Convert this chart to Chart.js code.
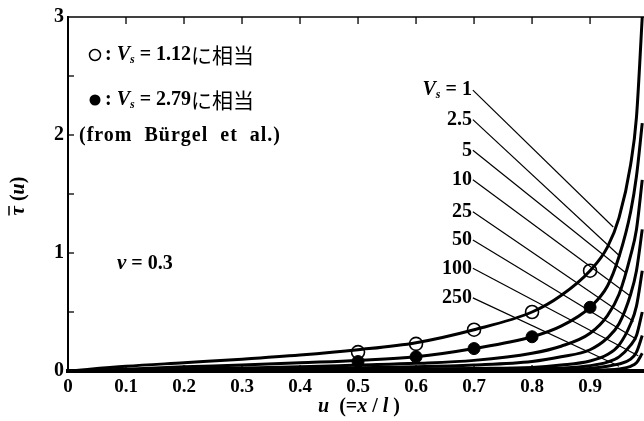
<!DOCTYPE html>
<html>
<head>
<meta charset="utf-8">
<script src="https://cdn.jsdelivr.net/npm/chart.js@4.4.1/dist/chart.umd.min.js"></script>
<style>
  html, body { margin: 0; padding: 0; background: #fff; }
  #wrap { width: 644px; height: 421px; position: relative; }
</style>
</head>
<body>
<div id="wrap"><canvas id="tauChart"></canvas></div>
<script>
// u positions shared by all curves
const uGrid = [0, 0.1, 0.2, 0.3, 0.4, 0.5, 0.6, 0.7, 0.8, 0.85, 0.9, 0.93, 0.95, 0.97, 0.98, 0.99];

// tau(u), one array per Vs
const vsLabels = ['1', '2.5', '5', '10', '25', '50', '100', '250'];
const tauVs1   = [0, 0.04, 0.07, 0.10, 0.135, 0.18, 0.24, 0.35, 0.50, 0.64, 0.85, 1.05, 1.30, 1.75, 2.15, 3.0];
const tauVs2_5 = [0, 0.015, 0.035, 0.05, 0.07, 0.09, 0.12, 0.19, 0.29, 0.38, 0.54, 0.72, 0.97, 1.35, 1.65, 2.1];
const tauVs5   = [0, 0.01, 0.018, 0.026, 0.035, 0.05, 0.065, 0.09, 0.15, 0.21, 0.32, 0.47, 0.65, 0.98, 1.2, 1.62];
const tauVs10  = [0, 0.006, 0.012, 0.018, 0.022, 0.028, 0.035, 0.05, 0.08, 0.12, 0.18, 0.28, 0.40, 0.65, 0.85, 1.2];
const tauVs25  = [0, 0.003, 0.006, 0.009, 0.012, 0.015, 0.018, 0.022, 0.03, 0.05, 0.085, 0.14, 0.22, 0.40, 0.55, 0.85];
const tauVs50  = [0, 0.002, 0.004, 0.006, 0.008, 0.01, 0.012, 0.014, 0.018, 0.025, 0.045, 0.075, 0.12, 0.22, 0.30, 0.5];
const tauVs100 = [0, 0.001, 0.002, 0.003, 0.004, 0.005, 0.006, 0.008, 0.01, 0.013, 0.022, 0.04, 0.06, 0.10, 0.16, 0.3];
const tauVs250 = [0, 0, 0, 0, 0, 0, 0.001, 0.002, 0.003, 0.004, 0.006, 0.01, 0.018, 0.04, 0.07, 0.15];
const curves = [tauVs1, tauVs2_5, tauVs5, tauVs10, tauVs25, tauVs50, tauVs100, tauVs250];

// experimental points (Bürgel et al.)
const expU      = [0.5, 0.6, 0.7, 0.8, 0.9];
const expOpen   = [0.16, 0.23, 0.35, 0.50, 0.85];  // Vs = 1.12
const expFilled = [0.08, 0.12, 0.19, 0.29, 0.54];  // Vs = 2.79

// leader lines from each Vs label to its curve
const leadFromU   = [0.698, 0.698, 0.698, 0.698, 0.698, 0.698, 0.698, 0.698];
const leadFromTau = [2.38, 2.13, 1.87, 1.62, 1.35, 1.11, 0.87, 0.62];
const leadToU     = [0.94, 0.952, 0.962, 0.968, 0.975, 0.98, 0.983, 0.95];
const leadToTau   = [1.22, 0.97, 0.83, 0.64, 0.42, 0.27, 0.13, 0.04];

// axes
const xTicks = [0, 0.1, 0.2, 0.3, 0.4, 0.5, 0.6, 0.7, 0.8, 0.9];
const yTicks = [0, 0.5, 1, 1.5, 2, 2.5, 3];

const SERIF = '"Liberation Serif", "DejaVu Serif", serif';
const CJK = '"Noto Sans CJK JP", sans-serif';

function drawRuns(ctx, x, y, runs, align) {
    let total = 0;
    runs.forEach(r => { ctx.font = r.f; total += ctx.measureText(r.t).width; });
    let cx = align === 'right' ? x - total : (align === 'center' ? x - total / 2 : x);
    const spans = [];
    runs.forEach(r => {
        ctx.font = r.f;
        const w = ctx.measureText(r.t).width;
        ctx.fillText(r.t, cx, y + (r.dy || 0));
        spans.push([cx, w]);
        cx += w;
    });
    return spans;
}

function vsRuns(value, size) {
    return [
        { t: 'V', f: `italic bold ${size}px ${SERIF}` },
        { t: 's', f: `italic bold ${Math.round(size * 0.6)}px ${SERIF}`, dy: 5 },
        { t: ' = ' + value, f: `bold ${size}px ${SERIF}` }
    ];
}

const annotations = {
    id: 'annotations',
    afterDraw(chart) {
        const { ctx, chartArea, scales } = chart;
        const xs = scales.x, ys = scales.y;
        ctx.save();
        ctx.fillStyle = '#000';
        ctx.strokeStyle = '#000';
        ctx.textBaseline = 'middle';

        // top frame line
        ctx.lineWidth = 1.5;
        ctx.beginPath();
        ctx.moveTo(chartArea.left, chartArea.top);
        ctx.lineTo(chartArea.right, chartArea.top);
        ctx.stroke();

        // inner tick marks
        ctx.lineWidth = 1.3;
        xTicks.slice(1).forEach(v => {
            const px = xs.getPixelForValue(v);
            ctx.beginPath();
            ctx.moveTo(px, chartArea.top); ctx.lineTo(px, chartArea.top + 7);
            ctx.moveTo(px, chartArea.bottom); ctx.lineTo(px, chartArea.bottom - 6);
            ctx.stroke();
        });
        yTicks.slice(1, -1).forEach(v => {
            const py = ys.getPixelForValue(v);
            ctx.beginPath();
            ctx.moveTo(chartArea.left, py); ctx.lineTo(chartArea.left + 6, py);
            ctx.stroke();
        });

        // Vs labels, right-aligned at the start of each leader
        vsLabels.forEach((lab, i) => {
            const px = xs.getPixelForValue(leadFromU[i]) - 1;
            const py = ys.getPixelForValue(leadFromTau[i]);
            const runs = i === 0 ? vsRuns(lab, 20) : [{ t: lab, f: `bold 20px ${SERIF}` }];
            drawRuns(ctx, px, py, runs, 'right');
        });

        // legend block
        const lx = chartArea.left + 27;
        ctx.lineWidth = 1.5;
        ctx.beginPath();
        ctx.arc(lx, 55, 5.5, 0, Math.PI * 2);
        ctx.stroke();
        ctx.beginPath();
        ctx.arc(lx, 100, 5.5, 0, Math.PI * 2);
        ctx.fill();
        const tail = { t: 'に相当', f: `21px ${CJK}` };
        drawRuns(ctx, lx + 10, 55, [{ t: ': ', f: `bold 20px ${SERIF}` }, ...vsRuns('1.12', 20), tail]);
        drawRuns(ctx, lx + 10, 100, [{ t: ': ', f: `bold 20px ${SERIF}` }, ...vsRuns('2.79', 20), tail]);
        ctx.letterSpacing = '1px';
        drawRuns(ctx, chartArea.left + 11, 136, [{ t: '(from  Bürgel  et  al.)', f: `bold 20px ${SERIF}` }]);
        ctx.letterSpacing = '0px';

        // Poisson ratio
        drawRuns(ctx, chartArea.left + 49, 264, [
            { t: 'ν', f: `italic bold 21px ${SERIF}` },
            { t: ' = 0.3', f: `bold 20px ${SERIF}` }
        ]);

        // x axis title
        drawRuns(ctx, 359, 407, [
            { t: 'u', f: `italic bold 20px ${SERIF}` },
            { t: '  (=', f: `bold 20px ${SERIF}` },
            { t: 'x', f: `italic bold 20px ${SERIF}` },
            { t: ' / ', f: `bold 20px ${SERIF}` },
            { t: 'l', f: `italic bold 20px ${SERIF}` },
            { t: ' )', f: `bold 20px ${SERIF}` }
        ], 'center');

        // y axis title, rotated, with a bar over tau
        ctx.translate(19, 196);
        ctx.rotate(-Math.PI / 2);
        const spans = drawRuns(ctx, 0, 0, [
            { t: 'τ', f: `italic bold 21px ${SERIF}` },
            { t: ' (', f: `bold 20px ${SERIF}` },
            { t: 'u', f: `italic bold 20px ${SERIF}` },
            { t: ')', f: `bold 20px ${SERIF}` }
        ], 'center');
        ctx.lineWidth = 1.5;
        ctx.beginPath();
        ctx.moveTo(spans[0][0], -10);
        ctx.lineTo(spans[0][0] + spans[0][1], -10);
        ctx.stroke();
        ctx.restore();
    }
};

const datasets = [];
curves.forEach((arr, i) => {
    datasets.push({
        label: 'Vs=' + vsLabels[i],
        data: uGrid.map((u, k) => ({ x: u, y: arr[k] })),
        borderColor: '#000',
        borderWidth: 3,
        pointRadius: 0,
        cubicInterpolationMode: 'monotone',
        fill: false
    });
});
vsLabels.forEach((lab, i) => {
    datasets.push({
        label: 'leader ' + lab,
        data: [{ x: leadFromU[i], y: leadFromTau[i] }, { x: leadToU[i], y: leadToTau[i] }],
        borderColor: '#000',
        borderWidth: 1.2,
        pointRadius: 0,
        fill: false
    });
});
datasets.push({
    label: 'Vs=2.79',
    data: expU.map((u, k) => ({ x: u, y: expFilled[k] })),
    showLine: false,
    pointRadius: 6,
    pointBackgroundColor: '#000',
    pointBorderColor: '#000',
    pointBorderWidth: 1
});
datasets.push({
    label: 'Vs=1.12',
    data: expU.map((u, k) => ({ x: u, y: expOpen[k] })),
    showLine: false,
    pointRadius: 6.5,
    pointBackgroundColor: '#fff',
    pointBorderColor: '#000',
    pointBorderWidth: 1.6
});

new Chart(document.getElementById('tauChart'), {
    type: 'line',
    data: { datasets },
    options: {
        responsive: true,
        maintainAspectRatio: false,
        animation: false,
        layout: { autoPadding: false, padding: { top: 17, right: 0, left: 0, bottom: 0 } },
        plugins: { legend: { display: false }, tooltip: { enabled: false } },
        scales: {
            x: {
                type: 'linear',
                min: 0,
                max: 0.993,
                afterBuildTicks: s => { s.ticks = xTicks.map(v => ({ value: v })); },
                afterFit: s => { s.height = 50; s.paddingRight = 0; s.paddingLeft = 0; },
                grid: { display: false, drawTicks: false },
                border: { display: true, color: '#000', width: 4 },
                ticks: {
                    color: '#000',
                    padding: 5,
                    maxRotation: 0,
                    font: { family: SERIF, size: 19, weight: 'bold' },
                    callback: v => v === 0 ? '0' : v.toFixed(1)
                }
            },
            y: {
                type: 'linear',
                min: 0,
                max: 3,
                afterBuildTicks: s => { s.ticks = yTicks.map(v => ({ value: v })); },
                afterFit: s => { s.width = 68; },
                grid: { display: false, drawTicks: false },
                border: { display: true, color: '#000', width: 2 },
                ticks: {
                    color: '#000',
                    padding: 4,
                    font: { family: SERIF, size: 20, weight: 'bold' },
                    callback: v => Number.isInteger(v) ? String(v) : ''
                }
            }
        }
    },
    plugins: [annotations]
});
</script>
</body>
</html>
